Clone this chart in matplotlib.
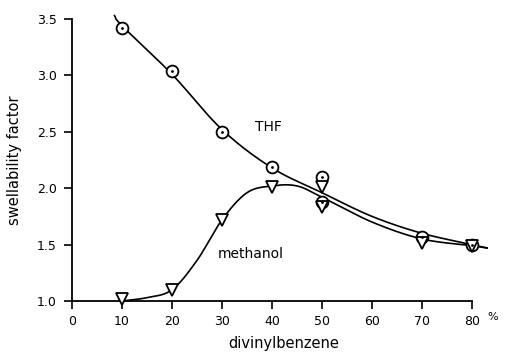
import numpy as np
import matplotlib
matplotlib.use("Agg")
import matplotlib.pyplot as plt

# measured swellability factors vs. divinylbenzene content (%)
thf_x = [10, 20, 30, 40, 50, 50, 70, 80]
thf_y = [3.42, 3.04, 2.50, 2.19, 2.10, 1.88, 1.57, 1.50]
meoh_x = [10, 20, 30, 40, 50, 50, 70, 80]
meoh_y = [1.02, 1.10, 1.72, 2.01, 2.01, 1.83, 1.51, 1.49]

# hand-drawn trend curves (knots along each line)
thf_curve_x = [8.5, 10, 20, 30, 40, 50, 60, 70, 80, 83]
thf_curve_y = [3.53, 3.44, 3.01, 2.52, 2.18, 1.96, 1.75, 1.60, 1.50, 1.47]
meoh_curve_x = [10, 15, 20, 25, 30, 35, 40, 45, 50, 60, 70, 80, 83]
meoh_curve_y = [1.0, 1.03, 1.10, 1.36, 1.72, 1.96, 2.02, 2.02, 1.92, 1.70, 1.55, 1.49, 1.47]

x_ticks = [0, 10, 20, 30, 40, 50, 60, 70, 80]
y_ticks = [1.0, 1.5, 2.0, 2.5, 3.0, 3.5]


def smooth(xs, ys, n=20):
    """Catmull-Rom spline through the knots."""
    p = np.column_stack([xs, ys]).astype(float)
    p = np.vstack([2 * p[0] - p[1], p, 2 * p[-1] - p[-2]])
    out = []
    t = np.linspace(0, 1, n, endpoint=False)[:, None]
    for i in range(1, len(p) - 2):
        p0, p1, p2, p3 = p[i - 1], p[i], p[i + 1], p[i + 2]
        seg = 0.5 * ((2 * p1) + (-p0 + p2) * t
                     + (2 * p0 - 5 * p1 + 4 * p2 - p3) * t ** 2
                     + (-p0 + 3 * p1 - 3 * p2 + p3) * t ** 3)
        out.append(seg)
    out.append(p[-2][None, :])
    out = np.vstack(out)
    return out[:, 0], out[:, 1]


fig = plt.figure(figsize=(5.12, 3.52), dpi=100)
ax = fig.add_axes([72 / 512, 1 - 301 / 352, 400 / 512, 282 / 352])

cx, cy = smooth(thf_curve_x, thf_curve_y)
ax.plot(cx, cy, color="black", lw=1.2, clip_on=False)
cx, cy = smooth(meoh_curve_x, meoh_curve_y)
ax.plot(cx, cy, color="black", lw=1.2, clip_on=False)

ax.plot(thf_x, thf_y, ls="none", marker="o", ms=8.5, mfc="white",
        mec="black", mew=1.3, clip_on=False, zorder=3)
ax.plot(thf_x, thf_y, ls="none", marker=".", ms=2, color="black",
        clip_on=False, zorder=4)
ax.plot(meoh_x, meoh_y, ls="none", marker="v", ms=9, mfc="white",
        mec="black", mew=1.3, clip_on=False, zorder=3)

ax.set_xlim(0, 80)
ax.set_ylim(1.0, 3.5)
ax.set_xticks(x_ticks)
ax.set_yticks(y_ticks)
ax.set_yticklabels([f"{v:.1f}" for v in y_ticks])

for s in ["top", "right"]:
    ax.spines[s].set_visible(False)
for s in ["left", "bottom"]:
    ax.spines[s].set_linewidth(1.3)
ax.tick_params(direction="out", length=6, width=1.2, labelsize=9,
               colors="black")
ax.tick_params(axis="y", pad=5)
ax.tick_params(axis="x", pad=4)

ax.text(83, -0.055, "%", transform=ax.get_xaxis_transform(), fontsize=8,
        va="center", ha="left")

ax.text(36.6, 2.51, "THF", fontsize=10)
ax.text(29.2, 1.38, "methanol", fontsize=10)

ax.set_xlabel("divinylbenzene", fontsize=10.5)
ax.xaxis.set_label_coords(0.53, -0.125)
ax.set_ylabel("swellability factor", fontsize=10.5)
ax.yaxis.set_label_coords(-0.125, 0.5)

fig.savefig("out.png", dpi=100)
